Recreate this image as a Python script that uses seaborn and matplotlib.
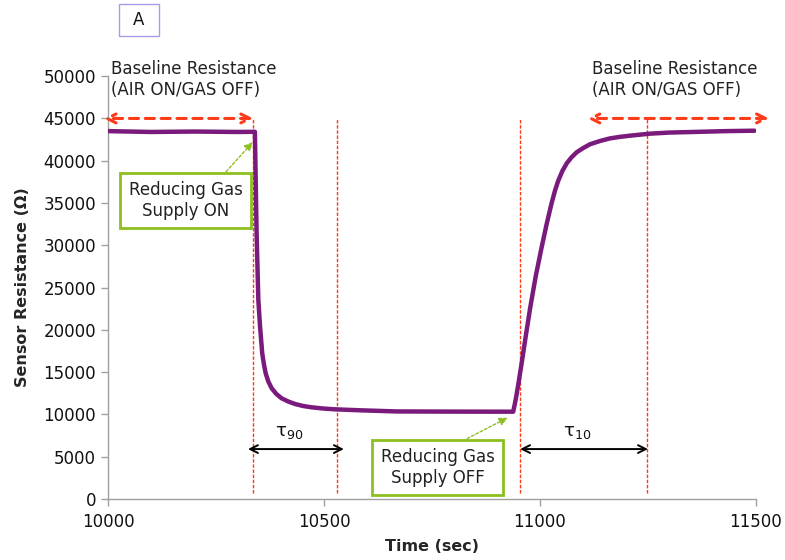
import matplotlib
matplotlib.use("Agg")
import matplotlib.pyplot as plt
import seaborn as sns
import pandas as pd
from matplotlib.patches import Rectangle

# Sensor response (time in s, resistance in ohm)
time_s = [10000, 10100, 10200, 10300, 10340, 10344, 10348, 10352, 10357,
          10361, 10365, 10371, 10379, 10390, 10402, 10417, 10433, 10451,
          10471, 10497, 10525, 10587, 10668, 10800, 10938, 10944, 10950,
          10958, 10966, 10977, 10990, 11004, 11015, 11027, 11035, 11042,
          11052, 11062, 11073, 11085, 11100, 11116, 11140, 11162, 11185,
          11208, 11255, 11300, 11370, 11430, 11497]
resistance_ohm = [43500, 43400, 43450, 43400, 43420, 31440, 23520, 20370,
                  17220, 15900, 14860, 13900, 13080, 12400, 11900, 11530,
                  11230, 11000, 10840, 10700, 10600, 10480, 10350, 10330,
                  10320, 11800, 13600, 16200, 18900, 22500, 26300, 29800,
                  32400, 35000, 36500, 37600, 38800, 39700, 40400, 41000,
                  41500, 41950, 42350, 42640, 42820, 42960, 43200, 43330,
                  43420, 43500, 43550]

# Event markers (gas on, t90 reached, gas off, t10 reached)
event_times = [10335, 10530, 10954, 11247]
tau90_span = [10324, 10546]
tau10_span = [10954, 11250]
baseline_left_span = [9990, 10336]
baseline_right_span = [11110, 11530]
baseline_level = 45000

x_ticks = [10000, 10500, 11000, 11500]
y_ticks = list(range(0, 50001, 5000))

df = pd.DataFrame({"Time (sec)": time_s, "Sensor Resistance (Ω)": resistance_ohm})

sns.set_theme(style="white")
plt.rcParams["font.family"] = ["DejaVu Sans"]

fig = plt.figure(figsize=(7.85, 5.6), dpi=100)
ax = fig.add_axes([0.1376, 0.109, 0.8254, 0.755])

RED = "#FF3A1A"
GREEN = "#8DBF1E"
PURPLE = "#7A1A7C"

# event lines
ax.vlines(event_times, 700, baseline_level, colors=RED, linewidth=1.0,
          linestyles=(0, (2.5, 1.2)), zorder=2)

sns.lineplot(data=df, x="Time (sec)", y="Sensor Resistance (Ω)", ax=ax,
             color=PURPLE, linewidth=3.2, zorder=3)
ax.lines[-1].set_solid_joinstyle("round")

ax.set_xlim(10000, 11500)
ax.set_ylim(0, 50000)
ax.set_xticks(x_ticks)
ax.set_yticks(y_ticks)
ax.tick_params(axis="both", which="both", direction="out", length=5,
               width=1, color="#A0A0A0", labelsize=12, labelcolor="#111111",
               left=True, bottom=True)
ax.tick_params(axis="x", pad=5)
for side in ["top", "right"]:
    ax.spines[side].set_visible(False)
for side in ["left", "bottom"]:
    ax.spines[side].set_color("#A0A0A0")
    ax.spines[side].set_linewidth(1.0)
ax.set_xlabel("Time (sec)", fontsize=11.5, fontweight="bold", labelpad=6)
ax.set_ylabel("Sensor Resistance (Ω)", fontsize=11.5, fontweight="bold", labelpad=10)

# baseline arrows
for span in (baseline_left_span, baseline_right_span):
    ax.annotate("", xy=(span[0], baseline_level), xytext=(span[1], baseline_level),
                arrowprops=dict(arrowstyle="<->", color=RED, lw=2.2,
                                linestyle=(0, (3, 2.2)), mutation_scale=16,
                                shrinkA=0, shrinkB=0),
                annotation_clip=False, zorder=4)

ax.text(10008, 49600, "Baseline Resistance\n(AIR ON/GAS OFF)", fontsize=12,
        color="#222222", ha="left", va="center", linespacing=1.15)
ax.text(11120, 49600, "Baseline Resistance\n(AIR ON/GAS OFF)", fontsize=12,
        color="#222222", ha="left", va="center", linespacing=1.15)

# response-time arrows
for span, label in ((tau90_span, r"$\mathregular{\tau_{90}}$"),
                    (tau10_span, r"$\mathregular{\tau_{10}}$")):
    ax.annotate("", xy=(span[0], 5900), xytext=(span[1], 5900),
                arrowprops=dict(arrowstyle="<->", color="black", lw=1.4,
                                mutation_scale=14, shrinkA=0, shrinkB=0),
                zorder=4)
    ax.text((span[0] + span[1]) / 2 - 15, 7900, label, fontsize=13,
            ha="center", va="center", color="#111111")

# gas supply callouts
box = dict(boxstyle="square,pad=0.5", fc="white", ec=GREEN, lw=2)
ax.annotate("Reducing Gas\nSupply ON", xy=(10335, 42200), xytext=(10180, 35300),
            fontsize=12, ha="center", va="center", color="#222222", bbox=box,
            linespacing=1.2,
            arrowprops=dict(arrowstyle="-|>", color=GREEN, lw=1,
                            linestyle=(0, (2, 1.5)), mutation_scale=12,
                            shrinkA=0, shrinkB=0,
                            relpos=(0.78, 1.0)), zorder=5)
ax.annotate("Reducing Gas\nSupply OFF", xy=(10925, 9600), xytext=(10763, 3750),
            fontsize=12, ha="center", va="center", color="#222222", bbox=box,
            linespacing=1.2,
            arrowprops=dict(arrowstyle="-|>", color=GREEN, lw=1,
                            linestyle=(0, (2, 1.5)), mutation_scale=12,
                            shrinkA=0, shrinkB=0,
                            relpos=(0.6, 1.0)), zorder=5)

# panel tag
fig.patches.append(Rectangle((119 / 785, 1 - 36 / 560), 40 / 785, 32 / 560,
                             transform=fig.transFigure, fill=False,
                             ec="#A99CE6", lw=1.0))
fig.text(133 / 785, 1 - 20 / 560, "A", fontsize=12, ha="left", va="center",
         color="#111111")

fig.savefig("out.png", dpi=100)
